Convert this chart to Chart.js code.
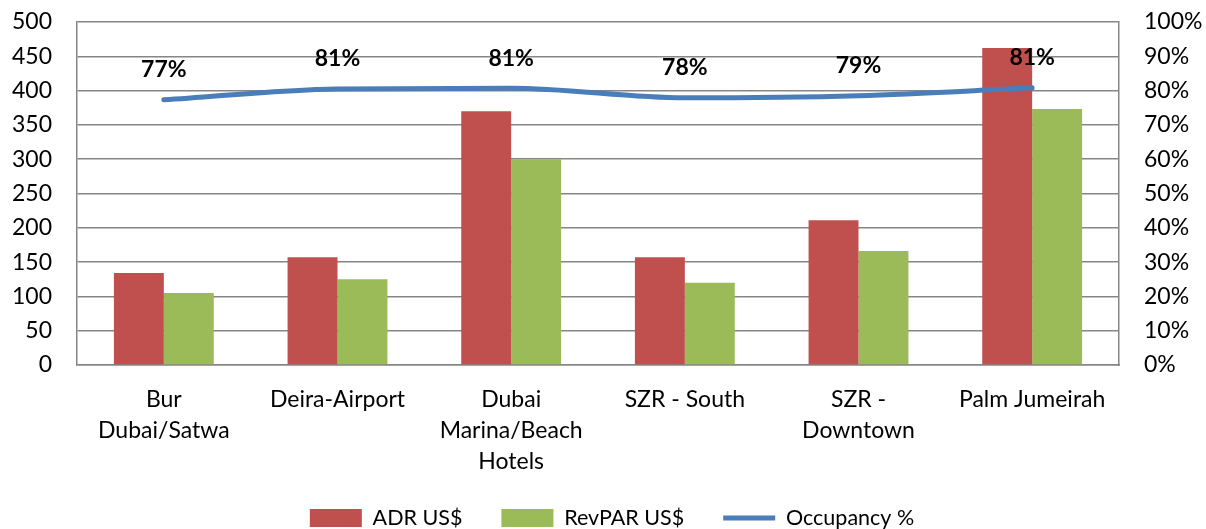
<!DOCTYPE html>
<html>
<head>
<meta charset="utf-8">
<script src="https://cdn.jsdelivr.net/npm/chart.js@4"></script>
<style>
  body { margin: 0; background: #fff; }
</style>
</head>
<body>
<canvas id="hotelChart" width="1206" height="529"></canvas>
<script>
const categories = [
    ['Bur', 'Dubai/Satwa'],
    ['Deira-Airport'],
    ['Dubai', 'Marina/Beach', 'Hotels'],
    ['SZR - South'],
    ['SZR -', 'Downtown'],
    ['Palm Jumeirah']
];
const adr = [134, 157, 370, 157, 211, 462];
const revpar = [105, 125, 300, 120, 166, 373];
const occupancy = [77.3, 80.5, 80.7, 77.9, 78.5, 80.8];

const FONT = 'Lato, "Open Sans", sans-serif';

// draws the bold % labels above the occupancy line
const occLabels = {
    id: 'occLabels',
    afterDatasetsDraw(chart) {
        const meta = chart.getDatasetMeta(2);
        const ctx = chart.ctx;
        ctx.save();
        ctx.font = 'bold 23px ' + FONT;
        ctx.fillStyle = '#000';
        ctx.textAlign = 'center';
        ctx.textBaseline = 'middle';
        meta.data.forEach((pt, i) => {
            ctx.fillText(Math.round(occupancy[i]) + '%', pt.x, pt.y - 30);
        });
        ctx.restore();
    }
};

// legend sits right at the bottom edge like in Excel
const legendPos = {
    id: 'legendPos',
    afterLayout(chart) {
        const lg = chart.legend;
        lg.top = 518 - 39 - 10.75;
        lg.bottom = chart.height;
        lg.left += 9;
        lg.right += 9;
    }
};

// stop the y axes from reserving tick padding above the plot
const noVPad = scale => { scale.paddingTop = 0; scale.paddingBottom = 0; };

const ctx = document.getElementById('hotelChart').getContext('2d');

const chart = new Chart(ctx, {
    type: 'bar',
    data: {
        labels: categories,
        datasets: [{
            label: 'ADR US$',
            data: adr,
            backgroundColor: '#c0504d',
            borderWidth: 0,
            yAxisID: 'y',
            order: 2
        }, {
            label: 'RevPAR US$',
            data: revpar,
            backgroundColor: '#9bbb59',
            borderWidth: 0,
            yAxisID: 'y',
            order: 2
        }, {
            type: 'line',
            label: 'Occupancy %',
            data: occupancy,
            borderColor: '#4a7ebb',
            backgroundColor: '#4a7ebb',
            borderWidth: 5,
            borderCapStyle: 'round',
            pointRadius: 0,
            cubicInterpolationMode: 'monotone',
            fill: false,
            yAxisID: 'y1',
            order: 1
        }]
    },
    options: {
        responsive: false,
        animation: false,
        categoryPercentage: 0.575,
        barPercentage: 1.0,
        layout: { padding: { top: 22, left: 0, right: 0, bottom: 0 } },
        plugins: {
            tooltip: { enabled: false },
            legend: {
                position: 'bottom',
                maxHeight: 49,
                labels: {
                    usePointStyle: true,
                    pointStyleWidth: 52,
                    boxHeight: 18,
                    padding: 39,
                    color: '#000',
                    font: { family: FONT, size: 21.5 },
                    sort: (a, b) => a.datasetIndex - b.datasetIndex,
                    generateLabels(chart) {
                        const items = Chart.defaults.plugins.legend.labels.generateLabels(chart);
                        items.forEach(it => {
                            if (it.datasetIndex === 2) {
                                it.pointStyle = 'line';
                                it.lineWidth = 5;
                                it.strokeStyle = '#4a7ebb';
                            } else {
                                it.pointStyle = 'rect';
                                it.lineWidth = 0;
                            }
                        });
                        return items;
                    }
                }
            }
        },
        scales: {
            x: {
                grid: { display: false, drawTicks: false },
                border: { display: true, color: '#868686', width: 1.5 },
                ticks: {
                    color: '#000',
                    padding: 19,
                    maxRotation: 0,
                    autoSkip: false,
                    font: { family: FONT, size: 23, lineHeight: 1.35 }
                },
                afterFit(scale) { scale.height = 115; }
            },
            y: {
                position: 'left',
                min: 0,
                max: 500,
                ticks: {
                    stepSize: 50,
                    color: '#000',
                    padding: 25,
                    font: { family: FONT, size: 23 }
                },
                grid: { color: '#868686', lineWidth: 1.5, drawTicks: false },
                border: { display: true, color: '#868686', width: 1.5 },
                afterFit(scale) { scale.width = 77; noVPad(scale); }
            },
            y1: {
                position: 'right',
                min: 0,
                max: 100,
                ticks: {
                    stepSize: 10,
                    color: '#000',
                    padding: 25,
                    font: { family: FONT, size: 23 },
                    callback: v => v + '%'
                },
                grid: { display: false, drawTicks: false },
                border: { display: true, color: '#868686', width: 1.5 },
                afterFit(scale) { scale.width = 87; noVPad(scale); }
            }
        }
    },
    plugins: [occLabels, legendPos]
});
</script>
</body>
</html>
